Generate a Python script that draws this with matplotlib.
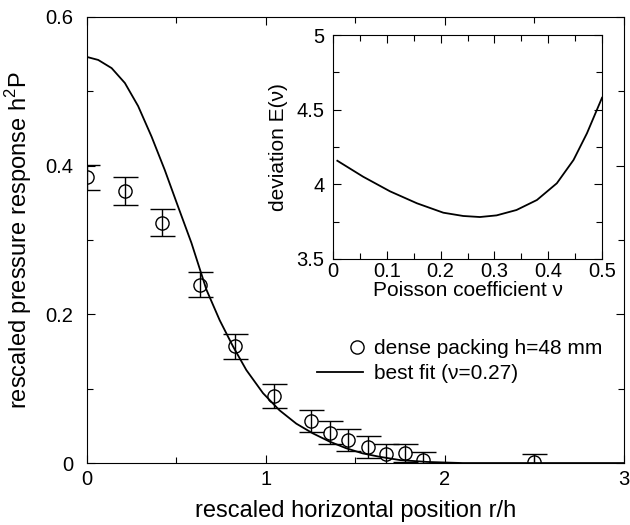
import numpy as np
import matplotlib
matplotlib.use("Agg")
import matplotlib.pyplot as plt
from matplotlib.legend_handler import HandlerLine2D
from matplotlib.ticker import MultipleLocator

plt.rcParams['font.family'] = ['Liberation Sans', 'DejaVu Sans']
plt.rcParams['font.size'] = 15
plt.rcParams['mathtext.fontset'] = 'custom'
plt.rcParams['mathtext.rm'] = 'Liberation Sans'

# measured points (dense packing h=48 mm)
r_h = [0.0, 0.21, 0.42, 0.63, 0.83, 1.045, 1.25, 1.36, 1.46, 1.57, 1.67, 1.78, 1.88, 2.50]
p_meas = [0.384, 0.366, 0.323, 0.240, 0.157, 0.090, 0.057, 0.041, 0.031, 0.022, 0.012, 0.013, 0.004, 0.002]
p_err = [0.017, 0.019, 0.018, 0.017, 0.017, 0.016, 0.015, 0.015, 0.015, 0.015, 0.013, 0.012, 0.011, 0.010]

# best fit curve (nu = 0.27)
fit_x = [0.0, 0.063, 0.138, 0.212, 0.286, 0.361, 0.435, 0.509, 0.584, 0.668, 0.742, 0.816,
         0.891, 0.984, 1.076, 1.170, 1.262, 1.355, 1.448, 1.541, 1.634, 1.75, 1.90, 2.10, 2.5, 3.0]
fit_y = [0.546, 0.542, 0.531, 0.511, 0.480, 0.439, 0.394, 0.345, 0.296, 0.233, 0.192, 0.157,
         0.125, 0.094, 0.071, 0.053, 0.040, 0.029, 0.020, 0.013, 0.0085, 0.004, 0.0015, 0.0, 0.0, 0.0]

# inset: deviation E(nu)
nu = [0.008, 0.056, 0.106, 0.156, 0.205, 0.242, 0.273, 0.304, 0.341, 0.379, 0.416, 0.447, 0.472, 0.50]
dev = [4.158, 4.051, 3.953, 3.873, 3.810, 3.788, 3.781, 3.792, 3.828, 3.895, 4.007, 4.163, 4.342, 4.58]


class MarkerRight(HandlerLine2D):
    # put the single marker at the right end of the handle
    def get_xdata(self, legend, xdescent, ydescent, width, height, fontsize):
        xr = -xdescent + width - 0.35 * height
        return [xr], [xr]


fig = plt.figure(figsize=(6.3, 5.25), dpi=100)
ax = fig.add_axes([0.138, 0.118, 0.852, 0.850])

ax.errorbar(r_h, p_meas, yerr=p_err, fmt='none', ecolor='black', elinewidth=1.0,
            capsize=9, capthick=1.0)
pts, = ax.plot(r_h, p_meas, 'o', ms=9.5, mfc='none', mec='black', mew=1.0)
fit, = ax.plot(fit_x, fit_y, '-', color='black', lw=1.3)

ax.set_xlim(0, 3)
ax.set_ylim(0, 0.6)
ax.xaxis.set_major_locator(MultipleLocator(1))
ax.xaxis.set_minor_locator(MultipleLocator(0.5))
ax.yaxis.set_major_locator(MultipleLocator(0.2))
ax.yaxis.set_minor_locator(MultipleLocator(0.1))
ax.xaxis.set_major_formatter(plt.FuncFormatter(lambda v, p: '%g' % v))
ax.yaxis.set_major_formatter(plt.FuncFormatter(lambda v, p: '%g' % round(v, 2)))
ax.tick_params(which='both', direction='in', top=True, right=True, width=0.8, labelsize=14.5)
ax.tick_params(which='major', length=6)
ax.tick_params(which='minor', length=4)
ax.tick_params(axis='x', pad=5)
ax.tick_params(axis='y', pad=10)
ax.set_xlabel('rescaled horizontal position r/h', fontsize=17, labelpad=8)
ax.set_ylabel(r'rescaled pressure response h$^{\mathregular{2}}$P', fontsize=17, labelpad=8)

ax.legend([pts, fit], ['dense packing h=48 mm', u'best fit (\u03bd=0.27)'],
          handler_map={pts: MarkerRight(numpoints=2)},
          loc='upper left', bbox_to_anchor=(0.428, 0.277), frameon=False, fontsize=15,
          borderpad=0, borderaxespad=0, handlelength=2.2, handletextpad=0.53,
          labelspacing=0.27)

# inset
axi = fig.add_axes([0.5286, 0.5067, 0.4270, 0.4266])
axi.plot(nu, dev, '-', color='black', lw=1.3)
axi.set_xlim(0, 0.5)
axi.set_ylim(3.5, 5)
axi.xaxis.set_major_locator(MultipleLocator(0.1))
axi.xaxis.set_minor_locator(MultipleLocator(0.05))
axi.yaxis.set_major_locator(MultipleLocator(0.5))
axi.yaxis.set_minor_locator(MultipleLocator(0.25))
axi.xaxis.set_major_formatter(plt.FuncFormatter(lambda v, p: '%g' % round(v, 2)))
axi.yaxis.set_major_formatter(plt.FuncFormatter(lambda v, p: '%g' % v))
axi.tick_params(which='both', direction='in', top=True, right=True, width=0.8, labelsize=14.5)
axi.tick_params(which='major', length=6)
axi.tick_params(which='minor', length=4)
axi.tick_params(axis='x', pad=2)
axi.tick_params(axis='y', pad=6)
axi.set_xlabel(u'Poisson coefficient \u03bd', fontsize=15, labelpad=0.5)
axi.set_ylabel(u'deviation E(\u03bd)', fontsize=15, labelpad=6)

fig.savefig('out.png', dpi=100)
